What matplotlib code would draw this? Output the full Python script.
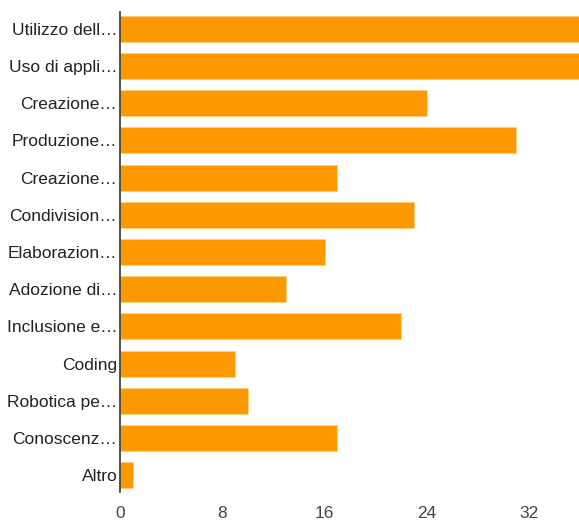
import matplotlib
matplotlib.use("Agg")
import matplotlib.pyplot as plt

labels = ["Utilizzo dell…", "Uso di appli…", "Creazione…", "Produzione…", "Creazione…",
          "Condivision…", "Elaborazion…", "Adozione di…", "Inclusione e…", "Coding",
          "Robotica pe…", "Conoscenz…", "Altro"]
values = [38, 37, 24, 31, 17, 23, 16, 13, 22, 9, 10, 17, 1]
xticks = [0, 8, 16, 24, 32]

plt.rcParams['font.family'] = ['Liberation Sans', 'DejaVu Sans']

fig = plt.figure(figsize=(5.79, 5.21), dpi=100)
ax = fig.add_axes([120/579, 29/521, 459/579, 480/521])

ypos = list(range(len(labels)))
ax.barh(ypos, values, height=0.7, color="#ff9900", edgecolor="#ffd080", linewidth=0.6)

ax.set_xlim(0, 35.9)
ax.set_ylim(12.45, -0.45)
ax.set_yticks(ypos)
ax.set_yticklabels(labels, fontsize=12.5, color="#222222")
ax.set_xticks(xticks)
ax.set_xticklabels([str(t) for t in xticks], fontsize=12.5, color="#444444")
ax.tick_params(length=0, pad=2)
ax.tick_params(axis='x', pad=10)

for s in ["top", "right", "bottom"]:
    ax.spines[s].set_visible(False)
ax.spines["left"].set_color("#333333")
ax.spines["left"].set_linewidth(1.2)

fig.savefig("out.png", dpi=100)
